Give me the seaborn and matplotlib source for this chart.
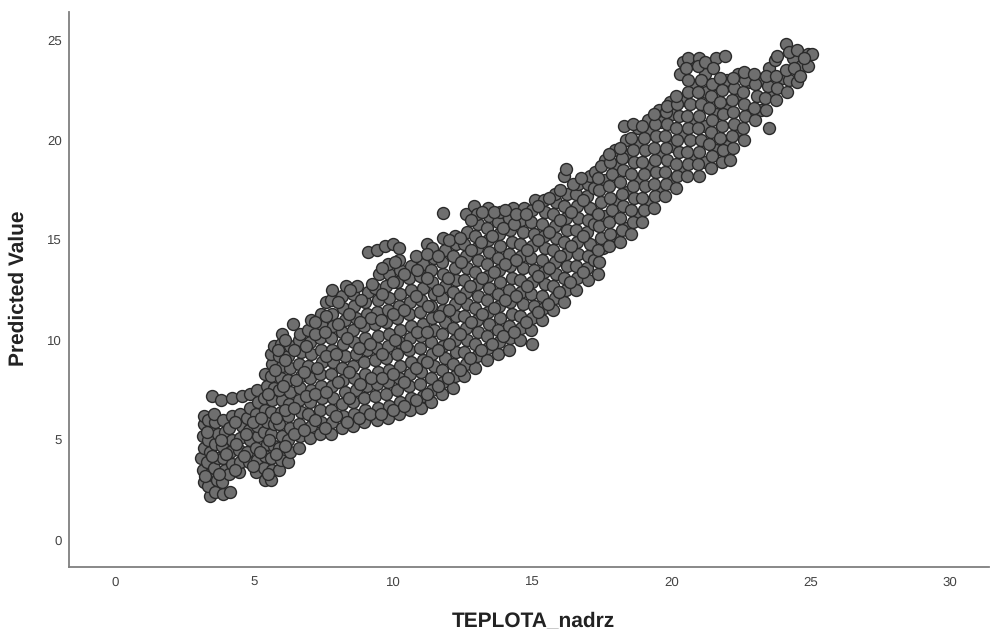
import matplotlib
matplotlib.use('Agg')
import matplotlib.pyplot as plt
import pandas as pd
import seaborn as sns

x_ticks = [0, 5, 10, 15, 20, 25, 30]
y_ticks = [0, 5, 10, 15, 20, 25]

# points, (TEPLOTA_nadrz, Predicted Value)
cold_points = [
    (3.1, 4.1), (3.2, 2.9), (3.15, 3.5), (3.2, 4.6), (3.15, 5.2), (3.2, 5.8), (3.2, 6.2),
    (3.4, 2.2), (3.35, 2.7), (3.4, 3.3), (3.3, 3.9), (3.4, 4.4), (3.35, 5.0), (3.4, 5.5), (3.35, 6.0),
    (3.5, 7.2), (3.6, 2.4), (3.65, 3.0), (3.55, 3.6), (3.7, 4.1), (3.6, 4.8), (3.7, 5.3), (3.6, 5.9), (3.55, 6.3),
    (3.8, 7.0), (3.9, 2.3), (3.85, 2.9), (3.95, 3.5), (3.9, 4.1), (3.85, 4.7), (3.95, 5.4), (3.9, 6.0),
    (4.2, 7.1), (4.15, 2.4), (4.1, 3.3), (4.2, 3.8), (4.15, 4.4), (4.2, 5.0), (4.1, 5.6), (4.2, 6.2),
    (4.45, 3.4), (4.5, 3.9), (4.45, 4.5), (4.5, 5.1), (4.55, 5.7), (4.5, 6.3), (4.55, 7.2),
    (4.8, 3.9), (4.75, 4.4), (4.85, 5.0), (4.8, 5.5), (4.75, 6.1), (4.85, 7.3), (4.85, 6.6),
    (5.1, 7.5), (5.05, 3.4), (5.1, 4.0), (5.05, 4.6), (5.15, 5.2), (5.1, 5.7), (5.05, 6.3), (5.15, 6.9),
    (5.4, 3.0), (5.35, 3.6), (5.4, 4.2), (5.45, 4.8), (5.35, 5.4), (5.45, 5.9), (5.4, 6.5), (5.35, 7.1), (5.45, 7.7), (5.4, 8.3),
    (5.6, 3.0), (5.65, 3.5), (5.6, 4.1), (5.7, 4.7), (5.6, 5.3), (5.7, 5.8), (5.6, 6.4), (5.65, 7.0), (5.7, 7.6), (5.6, 8.2), (5.65, 8.8), (5.6, 9.3), (5.7, 9.7),
    (5.9, 3.5), (5.95, 4.0), (5.9, 4.6), (6.0, 5.2), (5.9, 5.8), (5.95, 6.4), (6.0, 7.0), (5.9, 7.5), (5.95, 8.1), (6.0, 8.7), (5.9, 9.2), (5.95, 9.8), (6.0, 10.3),
]

low_mid_points = [
    (6.2, 3.9), (6.3, 4.4), (6.2, 5.0), (6.3, 5.6), (6.2, 6.2), (6.25, 6.8), (6.3, 7.4), (6.2, 8.0), (6.3, 8.6), (6.2, 9.2), (6.3, 9.7), (6.4, 10.8),
    (6.6, 4.6), (6.65, 5.2), (6.6, 5.8), (6.7, 6.4), (6.6, 7.0), (6.65, 7.6), (6.7, 8.2), (6.6, 8.8), (6.7, 9.4), (6.6, 10.0), (6.65, 10.3),
    (7.0, 5.1), (7.05, 5.7), (6.95, 6.3), (7.0, 6.9), (7.05, 7.5), (7.0, 8.1), (6.95, 8.7), (7.05, 9.3), (7.0, 9.9), (6.95, 10.5), (7.05, 11.0),
    (7.35, 5.3), (7.4, 5.9), (7.35, 6.5), (7.45, 7.1), (7.4, 7.7), (7.35, 8.3), (7.45, 8.9), (7.4, 9.5), (7.35, 10.1), (7.45, 10.7), (7.4, 11.3), (7.6, 11.9),
    (7.75, 5.3), (7.8, 5.9), (7.75, 6.5), (7.85, 7.1), (7.8, 7.7), (7.75, 8.3), (7.85, 8.9), (7.8, 9.5), (7.75, 10.1), (7.85, 10.7), (7.8, 11.3), (7.75, 12.0), (7.8, 12.5),
    (8.15, 5.6), (8.2, 6.2), (8.15, 6.8), (8.25, 7.4), (8.2, 8.0), (8.15, 8.6), (8.25, 9.2), (8.2, 9.8), (8.15, 10.4), (8.25, 11.0), (8.2, 11.6), (8.15, 12.2), (8.3, 12.7),
    (8.55, 5.7), (8.6, 6.3), (8.55, 6.9), (8.65, 7.5), (8.6, 8.1), (8.55, 8.7), (8.65, 9.3), (8.6, 9.9), (8.55, 10.5), (8.65, 11.1), (8.6, 11.7), (8.55, 12.3), (8.7, 12.7),
    (8.95, 5.9), (9.0, 6.5), (8.95, 7.1), (9.05, 7.7), (9.0, 8.3), (8.95, 8.9), (9.05, 9.5), (9.0, 10.1), (8.95, 10.7), (9.05, 11.3), (9.0, 11.9), (9.1, 12.4), (9.1, 14.4), (9.4, 14.5),
    (9.4, 6.0), (9.45, 6.6), (9.35, 7.2), (9.4, 7.8), (9.45, 8.4), (9.35, 9.0), (9.4, 9.6), (9.45, 10.2), (9.35, 10.8), (9.4, 11.4), (9.45, 12.0), (9.35, 12.6), (9.5, 13.3),
    (9.7, 14.7), (9.8, 6.1), (9.85, 6.7), (9.75, 7.3), (9.8, 7.9), (9.85, 8.5), (9.75, 9.1), (9.8, 9.7), (9.85, 10.3), (9.75, 10.9), (9.8, 11.5), (9.85, 12.1), (9.75, 12.7), (9.85, 13.3), (9.8, 13.8),
    (10.0, 14.8), (10.2, 14.6), (10.2, 6.3), (10.25, 6.9), (10.15, 7.5), (10.2, 8.1), (10.25, 8.7), (10.15, 9.3), (10.2, 9.9), (10.25, 10.5), (10.15, 11.1), (10.2, 11.7), (10.25, 12.3), (10.15, 12.9), (10.25, 13.5), (10.2, 14.0),
    (10.6, 6.5), (10.65, 7.1), (10.55, 7.7), (10.6, 8.3), (10.65, 8.9), (10.55, 9.5), (10.6, 10.1), (10.65, 10.7), (10.55, 11.3), (10.6, 11.9), (10.65, 12.5), (10.55, 13.1), (10.65, 13.7),
    (11.0, 6.6), (11.05, 7.2), (10.95, 7.8), (11.0, 8.4), (11.05, 9.0), (10.95, 9.6), (11.0, 10.2), (11.05, 10.8), (10.95, 11.4), (11.0, 12.0), (11.05, 12.6), (10.95, 13.2), (11.05, 13.8), (11.2, 14.8),
    (11.35, 6.9), (11.4, 7.5), (11.35, 8.1), (11.45, 8.7), (11.4, 9.3), (11.35, 9.9), (11.45, 10.5), (11.4, 11.1), (11.35, 11.7), (11.45, 12.3), (11.4, 12.9), (11.35, 13.5), (11.45, 14.1), (11.4, 14.6),
]

mid_points = [
    (11.8, 16.35), (11.75, 7.3), (11.8, 7.9), (11.75, 8.5), (11.85, 9.1), (11.8, 9.7), (11.75, 10.3), (11.85, 10.9), (11.8, 11.5), (11.75, 12.1), (11.85, 12.7), (11.8, 13.3), (11.75, 13.9), (11.85, 14.5), (11.8, 15.1),
    (12.15, 7.6), (12.2, 8.2), (12.15, 8.8), (12.25, 9.4), (12.2, 10.0), (12.15, 10.6), (12.25, 11.2), (12.2, 11.8), (12.15, 12.4), (12.25, 13.0), (12.2, 13.6), (12.15, 14.2), (12.25, 14.8), (12.2, 15.2), (12.6, 16.3),
    (12.55, 8.2), (12.6, 8.8), (12.55, 9.4), (12.65, 10.0), (12.6, 10.6), (12.55, 11.2), (12.65, 11.8), (12.6, 12.4), (12.55, 13.0), (12.65, 13.6), (12.6, 14.2), (12.55, 14.8), (12.65, 15.4), (12.9, 16.7),
    (12.95, 8.6), (13.0, 9.2), (12.95, 9.8), (13.05, 10.4), (13.0, 11.0), (12.95, 11.6), (13.05, 12.2), (13.0, 12.8), (12.95, 13.4), (13.05, 14.0), (13.0, 14.6), (12.95, 15.2), (13.05, 15.8), (13.0, 16.3),
    (13.35, 9.0), (13.4, 9.6), (13.35, 10.2), (13.45, 10.8), (13.4, 11.4), (13.35, 12.0), (13.45, 12.6), (13.4, 13.2), (13.35, 13.8), (13.45, 14.4), (13.4, 15.0), (13.35, 15.6), (13.45, 16.2), (13.4, 16.6),
    (13.75, 9.3), (13.8, 9.9), (13.75, 10.5), (13.85, 11.1), (13.8, 11.7), (13.75, 12.3), (13.85, 12.9), (13.8, 13.5), (13.75, 14.1), (13.85, 14.7), (13.8, 15.3), (13.75, 15.9), (13.85, 16.4),
    (14.15, 9.5), (14.2, 10.1), (14.15, 10.7), (14.25, 11.3), (14.2, 11.9), (14.15, 12.5), (14.25, 13.1), (14.2, 13.7), (14.15, 14.3), (14.25, 14.9), (14.2, 15.5), (14.15, 16.1), (14.3, 16.6),
    (14.55, 10.0), (14.6, 10.6), (14.55, 11.2), (14.65, 11.8), (14.6, 12.4), (14.55, 13.0), (14.65, 13.6), (14.6, 14.2), (14.55, 14.8), (14.65, 15.4), (14.6, 16.0), (14.7, 16.6),
    (15.0, 9.8), (14.95, 10.5), (15.0, 11.1), (15.05, 11.7), (14.95, 12.3), (15.0, 12.9), (15.05, 13.5), (14.95, 14.1), (15.0, 14.7), (15.05, 15.3), (14.95, 15.9), (15.0, 16.5), (15.1, 17.0),
    (15.35, 11.0), (15.4, 11.6), (15.35, 12.2), (15.45, 12.8), (15.4, 13.4), (15.35, 14.0), (15.45, 14.6), (15.4, 15.2), (15.35, 15.8), (15.45, 16.4), (15.4, 17.0),
    (15.75, 11.5), (15.8, 12.1), (15.75, 12.7), (15.85, 13.3), (15.8, 13.9), (15.75, 14.5), (15.85, 15.1), (15.8, 15.7), (15.75, 16.3), (15.85, 16.9), (15.8, 17.3),
    (16.15, 11.9), (16.2, 12.5), (16.15, 13.1), (16.25, 13.7), (16.2, 14.3), (16.15, 14.9), (16.25, 15.5), (16.2, 16.1), (16.15, 16.7), (16.25, 17.3), (16.15, 18.2), (16.2, 18.55),
    (16.55, 12.5), (16.6, 13.1), (16.55, 13.7), (16.65, 14.3), (16.6, 14.9), (16.55, 15.5), (16.65, 16.1), (16.6, 16.7), (16.55, 17.3), (16.65, 17.8),
    (17.0, 13.0), (16.95, 13.6), (17.0, 14.2), (17.05, 14.8), (16.95, 15.4), (17.0, 16.0), (17.05, 16.6), (16.95, 17.2), (17.0, 17.8), (17.05, 18.2),
]

warm_points = [
    (17.35, 13.3), (17.4, 13.9), (17.35, 14.5), (17.45, 15.1), (17.4, 15.7), (17.35, 16.3), (17.45, 16.9), (17.4, 17.5), (17.35, 18.1), (17.45, 18.7),
    (17.75, 14.7), (17.8, 15.3), (17.75, 15.9), (17.85, 16.5), (17.8, 17.1), (17.75, 17.7), (17.85, 18.3), (17.8, 18.9), (17.75, 19.3),
    (18.15, 14.9), (18.2, 15.5), (18.15, 16.1), (18.25, 16.7), (18.2, 17.3), (18.15, 17.9), (18.25, 18.5), (18.2, 19.1), (18.15, 19.6), (18.3, 20.7),
    (18.55, 15.3), (18.6, 15.9), (18.55, 16.5), (18.65, 17.1), (18.6, 17.7), (18.55, 18.3), (18.65, 18.9), (18.6, 19.5), (18.55, 20.1), (18.6, 20.8),
    (18.95, 15.9), (19.0, 16.5), (18.95, 17.1), (19.05, 17.7), (19.0, 18.3), (18.95, 18.9), (19.05, 19.5), (19.0, 20.1), (18.95, 20.7),
    (19.35, 16.6), (19.4, 17.2), (19.35, 17.8), (19.45, 18.4), (19.4, 19.0), (19.35, 19.6), (19.45, 20.2), (19.4, 20.8), (19.35, 21.3),
    (19.75, 17.2), (19.8, 17.8), (19.75, 18.4), (19.85, 19.0), (19.8, 19.6), (19.75, 20.2), (19.85, 20.8), (19.8, 21.4), (19.85, 21.7),
    (20.15, 17.6), (20.2, 18.2), (20.15, 18.8), (20.25, 19.4), (20.2, 20.0), (20.15, 20.6), (20.25, 21.2), (20.2, 21.8), (20.15, 22.2), (20.3, 23.3),
    (20.4, 23.9), (20.6, 24.1), (20.5, 23.6), (20.55, 18.2), (20.6, 18.8), (20.55, 19.4), (20.65, 20.0), (20.6, 20.6), (20.55, 21.2), (20.65, 21.8), (20.6, 22.4), (20.6, 23.0),
    (21.0, 24.1), (20.95, 23.7), (21.2, 23.9), (21.6, 24.1), (21.9, 24.2), (21.5, 23.6), (21.0, 18.2), (20.95, 18.8), (21.0, 19.4), (21.05, 20.0), (20.95, 20.6), (21.0, 21.2), (21.05, 21.8), (20.95, 22.4), (21.05, 23.0),
    (21.4, 18.6), (21.45, 19.2), (21.35, 19.8), (21.4, 20.4), (21.45, 21.0), (21.35, 21.6), (21.4, 22.2), (21.45, 22.8), (21.75, 23.1),
    (21.8, 18.9), (21.85, 19.5), (21.75, 20.1), (21.8, 20.7), (21.85, 21.3), (21.75, 21.9), (21.8, 22.5),
    (22.1, 19.0), (22.2, 19.6), (22.15, 20.2), (22.25, 20.8), (22.2, 21.4), (22.15, 22.0), (22.25, 22.6), (22.2, 23.1),
    (22.6, 20.0), (22.55, 20.6), (22.65, 21.2), (22.6, 21.8), (22.55, 22.4), (22.65, 23.0), (22.6, 23.4),
    (23.0, 21.0), (22.95, 21.6), (23.05, 22.2), (23.0, 22.8), (22.95, 23.3),
    (23.5, 20.6), (23.4, 21.5), (23.35, 22.1), (23.45, 22.7), (23.5, 23.6), (23.4, 23.2),
    (23.75, 22.0), (23.8, 22.6), (23.75, 23.2), (23.7, 24.0), (23.8, 24.2),
    (24.1, 24.8), (24.2, 24.4), (24.15, 22.4), (24.2, 23.0), (24.1, 23.5), (24.4, 23.6), (24.5, 24.5),
    (24.5, 22.9), (24.6, 23.2), (24.9, 24.3), (25.05, 24.3), (24.9, 23.7), (24.75, 24.1),
]

# second pass over the dense part of the cloud, between the points above
dense_points = [
    (3.25, 3.2), (3.5, 4.2), (3.3, 5.4), (3.75, 3.3), (3.8, 5.0), (4.0, 4.3), (4.3, 3.5), (4.35, 4.8), (4.3, 5.9), (4.65, 4.2), (4.7, 5.3), (4.95, 3.7), (4.95, 5.9), (5.2, 4.4), (5.25, 6.1), (5.5, 3.3), (5.55, 5.0), (5.5, 7.3), (5.8, 4.3), (5.8, 6.1), (5.75, 8.5), (5.85, 9.5),
    (6.1, 4.7), (6.1, 6.5), (6.05, 7.7), (6.1, 9.0), (6.1, 10.0), (6.45, 5.3), (6.45, 6.6), (6.5, 8.0), (6.45, 9.5), (6.8, 5.5), (6.85, 7.2), (6.8, 8.4), (6.85, 9.7), (7.2, 6.0), (7.2, 7.3), (7.25, 8.6), (7.2, 10.3), (7.2, 10.9), (7.55, 5.6), (7.6, 7.4), (7.6, 9.2), (7.55, 10.4), (7.6, 11.2),
    (7.95, 6.2), (8.0, 7.9), (7.95, 9.3), (8.0, 10.8), (8.0, 11.9), (8.35, 5.9), (8.4, 7.1), (8.4, 8.4), (8.35, 10.1), (8.4, 11.3), (8.45, 12.5), (8.75, 6.1), (8.8, 7.8), (8.75, 9.6), (8.8, 10.9), (8.85, 12.0), (9.15, 6.3), (9.2, 8.1), (9.15, 9.8), (9.2, 11.1), (9.25, 12.8),
    (9.55, 6.3), (9.6, 8.1), (9.6, 9.3), (9.55, 11.0), (9.6, 12.3), (9.6, 13.6), (10.0, 6.5), (10.0, 8.3), (10.05, 10.0), (10.0, 11.3), (10.0, 12.9), (10.05, 13.9), (10.4, 6.7), (10.4, 7.9), (10.45, 9.7), (10.4, 11.5), (10.4, 13.3), (10.8, 7.0), (10.8, 8.6), (10.85, 10.4), (10.8, 12.2), (10.85, 13.5), (10.8, 14.2),
    (11.2, 7.3), (11.2, 8.9), (11.2, 10.4), (11.25, 11.7), (11.2, 13.1), (11.2, 14.3), (11.6, 7.7), (11.6, 9.5), (11.65, 11.2), (11.6, 12.5), (11.6, 14.2), (11.95, 8.1), (12.0, 9.8), (12.0, 11.5), (11.95, 13.1), (12.0, 15.0), (12.4, 8.5), (12.4, 10.3), (12.4, 12.1), (12.45, 13.9), (12.4, 15.1), (12.75, 9.1), (12.8, 10.9), (12.75, 12.7), (12.8, 14.5), (12.8, 16.0),
    (13.15, 9.5), (13.2, 11.3), (13.2, 13.1), (13.15, 14.9), (13.2, 16.4), (13.55, 9.8), (13.6, 11.6), (13.6, 13.4), (13.55, 15.2), (13.6, 16.4), (13.95, 10.2), (14.0, 12.0), (14.0, 13.8), (13.95, 15.6), (14.0, 16.5), (14.35, 10.4), (14.4, 12.2), (14.4, 14.0), (14.35, 15.8), (14.4, 16.3), (14.75, 10.9), (14.8, 12.7), (14.8, 14.5), (14.75, 16.3), (15.2, 11.4), (15.2, 13.2), (15.2, 15.0), (15.2, 16.7),
    (15.55, 11.8), (15.6, 13.6), (15.6, 15.4), (15.6, 17.1), (15.95, 12.4), (16.0, 14.2), (16.0, 16.0), (16.0, 17.5), (16.35, 12.9), (16.4, 14.7), (16.4, 16.4), (16.45, 17.8), (16.8, 13.4), (16.8, 15.2), (16.8, 17.0), (16.75, 18.1), (17.2, 14.0), (17.2, 15.8), (17.2, 17.6), (17.25, 18.4), (17.55, 14.6), (17.6, 16.2), (17.6, 18.0), (17.6, 19.0),
    (17.95, 15.2), (18.0, 16.9), (18.0, 18.7), (17.95, 19.5), (18.35, 15.6), (18.4, 17.4), (18.4, 19.2), (18.35, 20.0), (18.75, 16.2), (18.8, 18.0), (18.8, 19.8), (18.8, 20.6), (19.15, 16.9), (19.2, 18.6), (19.2, 20.4), (19.15, 21.0), (19.55, 17.4), (19.6, 19.2), (19.6, 20.9), (19.55, 21.5), (19.95, 18.0), (20.0, 19.7), (20.0, 21.3), (19.95, 21.9),
    (20.35, 18.5), (20.4, 20.3), (20.4, 22.0), (20.8, 19.1), (20.8, 20.9), (20.85, 22.7), (20.8, 23.9), (21.2, 18.9), (21.2, 20.7), (21.25, 22.4), (21.2, 23.3), (21.6, 19.5), (21.6, 21.3), (21.6, 22.8), (22.0, 19.7), (22.0, 21.5), (22.0, 23.0), (22.4, 20.5), (22.4, 22.3), (22.4, 23.3), (22.8, 21.4), (22.8, 22.9), (23.2, 21.5), (23.2, 23.0), (23.6, 22.4), (24.0, 23.1), (24.35, 24.1), (24.65, 23.7),
]

all_points = cold_points + low_mid_points + mid_points + dense_points + warm_points
df = pd.DataFrame(all_points, columns=['TEPLOTA_nadrz', 'Predicted Value'])

sns.set_style('white')
plt.rcParams['font.family'] = ['Liberation Sans', 'DejaVu Sans']
plt.rcParams['text.hinting'] = 'no_hinting'

fig, ax = plt.subplots(figsize=(9.9, 6.29), dpi=100)
fig.subplots_adjust(left=69/990, right=989/990, bottom=1-567/629, top=1-12/629)

sns.scatterplot(data=df, x='TEPLOTA_nadrz', y='Predicted Value', ax=ax,
                s=74, color='#6f6f6f', edgecolor='#2a2a2a', linewidth=1.0)

ax.set_xlim(-1.65, 31.4)
ax.set_ylim(-1.35, 26.4)
ax.set_xticks(x_ticks)
ax.set_yticks(y_ticks)
ax.tick_params(axis='x', length=0, labelsize=9.5, labelcolor='#444444', pad=7)
ax.tick_params(axis='y', length=0, labelsize=9.5, labelcolor='#444444', pad=5)
ax.set_xlabel('TEPLOTA_nadrz', fontsize=15, fontweight='bold', color='#222222')
ax.set_ylabel('Predicted Value', fontsize=15, fontweight='bold', color='#222222')
ax.xaxis.set_label_coords(0.505, -0.079)
ax.yaxis.set_label_coords(-0.044, 0.503)

sns.despine(ax=ax)
for side in ['left', 'bottom']:
    ax.spines[side].set_color('#7f7f7f')
    ax.spines[side].set_linewidth(1.3)

plt.savefig('out.png', dpi=100)
plt.close()
